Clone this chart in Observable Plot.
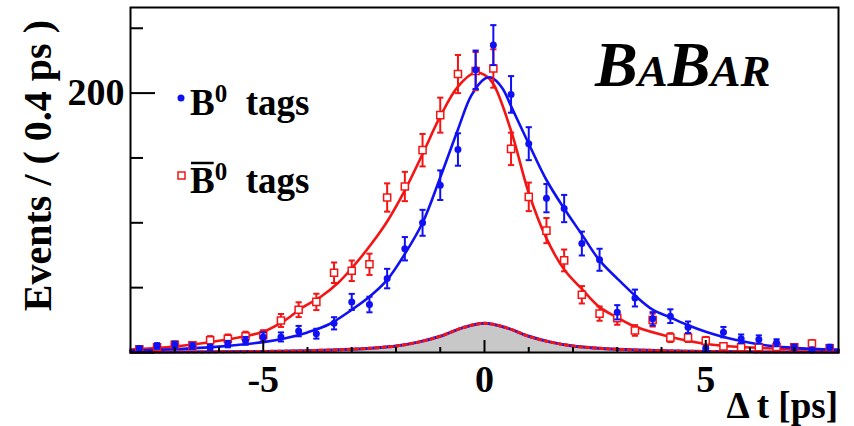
<!DOCTYPE html>
<html><head><meta charset="utf-8">
<script src="https://cdn.jsdelivr.net/npm/d3@7"></script>
<script src="https://cdn.jsdelivr.net/npm/@observablehq/plot@0.6"></script>
<style>html,body{margin:0;padding:0;background:#fff}svg{display:block}</style>
</head><body><div id="chart"></div>
<script>
// ---- data ----
const binCenters = [-7.8,-7.4,-7.0,-6.6,-6.2,-5.8,-5.4,-5.0,-4.6,-4.2,-3.8,-3.4,-3.0,-2.6,-2.2,-1.8,-1.4,-1.0,-0.6,-0.2,
                    0.2,0.6,1.0,1.4,1.8,2.2,2.6,3.0,3.4,3.8,4.2,4.6,5.0,5.4,5.8,6.2,6.6,7.0,7.4,7.8];
const b0Counts = [3,5,6,5,4,6.5,9,12,12,16.5,14.5,22.5,39,37,57,80,100,129,156.5,218,
                  237,199,161,119,111,84,71.5,31,42,26,28,19.5,3,15.7,10.6,10,7.5,4,2,4];
const b0Errors = [1.7,2.2,2.4,2.2,2,2.5,3,3.5,3.5,4,3.8,4.7,6.2,6,7.5,9,10,11.4,12.5,14.8,
                  15.4,14.1,12.7,10.9,10.5,9.2,8.5,5.5,6.5,5.1,5.3,4.4,1.7,4,3.3,3.2,2.7,2,1.4,2];
const b0barCounts = [2.5,4,6,5.5,9.5,10.6,12.5,13.5,24.7,33,39,61.5,63,68,119.5,128,156,183,214.7,217,
                     219,157,120,94,71,44.5,30,26.5,17,25,11.5,11.5,9,4.7,4,4,4.3,4,7,3.3];
const b0barErrors = [1.6,2,2.4,2.3,3.1,3.3,3.5,3.7,5,5.7,6.3,7.9,7.9,8.2,10.9,11.3,12.5,13.5,14.7,14.7,
                     14.8,12.5,11,9.7,8.4,6.7,5.5,5.1,4.1,5,3.4,3.4,3,2.2,2,2,2.1,2,2.6,1.8];

const fitB0X = [-8,-7,-6,-5,-4.5,-4,-3.5,-3,-2.6,-2.2,-1.8,-1.4,-1,-0.6,-0.3,0,0.15,0.4,0.6,1,1.4,1.8,2.2,2.6,3,3.4,3.8,4.2,4.6,5,5.4,6,6.5,7,8];
const fitB0Y = [1.5,2.5,4.5,8,11,15.5,22,33,43,56,76,100,135,172,198,211,212,204,190,161,133,111,91,71,57,44,33,27,21,16,12,7.5,5,3.6,2];
const fitB0barX = [-8,-7,-6,-5.5,-5,-4.5,-4.1,-3.7,-3.3,-2.95,-2.55,-2.2,-1.8,-1.4,-1,-0.6,-0.2,0,0.2,0.6,1,1.4,1.8,2.2,2.6,3,3.4,4.2,4.9,5.6,6.4,7,8];
const fitB0barY = [2.3,4.5,9,12,16,25,35,43,54,67,84,101,125,153,182,205,216,214,207,171,123,88,64,49,35,27,20,12,7.2,4.6,3.3,2.6,2];
const bkgX = [-8,-6,-5,-4,-3,-2.5,-2,-1.5,-1,-0.5,0,0.5,1,1.5,2,2.5,3,4,5,6,8];
const bkgY = [0.2,0.5,0.8,1.4,2.5,3.5,5,8,12.5,19,22.5,19,12.5,8,5,3.5,2.5,1.4,0.8,0.5,0.2];

const xTicksMajor = [-5, 0, 5];
const xTickLabels = ["-5", "0", "5"];
const xTicksMinor = [-7,-6,-4,-3,-2,-1,1,2,3,4,6,7];
const yTicksMajor = [0, 200];
const yTickLabels = ["", "200"];
const yTicksMinor = [50, 100, 150, 250];

const BLUE = "#1010f5", RED = "#f51414";
const FONT = "'Liberation Serif', 'Times New Roman', serif";

const b0 = binCenters.map((x, i) => ({x, y: b0Counts[i], lo: b0Counts[i] - b0Errors[i], hi: b0Counts[i] + b0Errors[i]}));
const b0bar = binCenters.map((x, i) => ({x, y: b0barCounts[i], lo: b0barCounts[i] - b0barErrors[i], hi: b0barCounts[i] + b0barErrors[i]}));
const fitB0 = fitB0X.map((x, i) => ({x, y: fitB0Y[i]}));
const fitB0bar = fitB0barX.map((x, i) => ({x, y: fitB0barY[i]}));
const bkg = bkgX.map((x, i) => ({x, y: bkgY[i]}));

const capW = 0.07;
function errMarks(data, color) {
  return [
    Plot.ruleX(data, {x: "x", y1: "lo", y2: "hi", stroke: color, strokeWidth: 2}),
    Plot.link(data, {x1: d => d.x - capW, x2: d => d.x + capW, y1: "hi", y2: "hi", stroke: color, strokeWidth: 2}),
    Plot.link(data, {x1: d => d.x - capW, x2: d => d.x + capW, y1: "lo", y2: "lo", stroke: color, strokeWidth: 2})
  ];
}

const plot = Plot.plot({
  width: 854, height: 426,
  marginLeft: 130, marginRight: 16, marginTop: 7, marginBottom: 74,
  x: {domain: [-8, 8]},
  y: {domain: [0, 266]},
  style: {fontFamily: FONT, fontWeight: "bold", background: "white", color: "black"},
  marks: [
    Plot.areaY(bkg, {x: "x", y: "y", fill: "#c8c8c8", curve: "catmull-rom"}),
    Plot.line(bkg, {x: "x", y: "y", stroke: BLUE, strokeWidth: 3, curve: "catmull-rom"}),
    Plot.line(bkg, {x: "x", y: "y", stroke: RED, strokeWidth: 3, strokeDasharray: "3,4", curve: "catmull-rom"}),
    Plot.line(fitB0bar, {x: "x", y: "y", stroke: RED, strokeWidth: 2.6, curve: "catmull-rom"}),
    Plot.line(fitB0, {x: "x", y: "y", stroke: BLUE, strokeWidth: 2.6, curve: "catmull-rom"}),
    ...errMarks(b0bar, RED),
    Plot.dot(b0bar, {x: "x", y: "y", symbol: "square", r: 4, fill: "white", stroke: RED, strokeWidth: 1.5}),
    ...errMarks(b0, BLUE),
    Plot.dot(b0, {x: "x", y: "y", r: 3.5, fill: BLUE}),
    Plot.frame({stroke: "black", strokeWidth: 2}),
    Plot.axisX({ticks: xTicksMinor, tickSize: -5, tickFormat: () => "", label: null, strokeWidth: 2}),
    Plot.axisX({ticks: xTicksMajor, tickSize: -12, tickFormat: () => "", label: null, strokeWidth: 2}),
    Plot.axisX({ticks: xTicksMajor, tickSize: 0, tickPadding: 13, tickFormat: (d, i) => xTickLabels[i], label: null, fontSize: 38}),
    Plot.axisY({ticks: yTicksMinor, tickSize: -13, tickFormat: () => "", label: null, strokeWidth: 2}),
    Plot.axisY({ticks: yTicksMajor, tickSize: -25, tickFormat: () => "", label: null, strokeWidth: 2}),
    Plot.axisY({ticks: yTicksMajor, tickSize: 0, tickPadding: 6, tickFormat: (d, i) => yTickLabels[i], label: null, fontSize: 38})
  ]
});
document.getElementById("chart").appendChild(plot);

const svg = d3.select(plot);
const g = svg.append("g").attr("font-family", FONT).attr("font-weight", "bold")
  .attr("fill", "black").attr("text-anchor", "start");

// y-axis title
g.append("text").attr("transform", "translate(51,20) rotate(-90)").attr("text-anchor", "end")
  .attr("font-size", 40).text("Events / ( 0.4 ps )");
// x-axis title
g.append("text").attr("x", 838).attr("y", 418).attr("text-anchor", "end").attr("font-size", 37)
  .text("\u0394 t [ps]");

// legend
g.append("circle").attr("cx", 181).attr("cy", 98).attr("r", 3.5).attr("fill", BLUE);
const t1 = g.append("text").attr("x", 190).attr("y", 115).attr("font-size", 37);
t1.append("tspan").text("B");
t1.append("tspan").attr("dy", -13).attr("font-size", 25).text("0");
t1.append("tspan").attr("dy", 13).text("\u00A0\u00A0tags");

g.append("rect").attr("x", 178).attr("y", 172).attr("width", 7).attr("height", 7)
  .attr("fill", "white").attr("stroke", RED).attr("stroke-width", 1.5);
const t2 = g.append("text").attr("x", 190).attr("y", 193).attr("font-size", 37);
t2.append("tspan").text("B");
t2.append("tspan").attr("dy", -13).attr("font-size", 25).text("0");
t2.append("tspan").attr("dy", 13).text("\u00A0\u00A0tags");
// overline over the B
const measure = g.append("text").attr("x", 190).attr("y", 193).attr("font-size", 37).attr("fill", "none").text("B");
const mb = measure.node().getBBox();
measure.remove();
g.append("line").attr("x1", mb.x + 1).attr("x2", mb.x + mb.width - 1)
  .attr("y1", 163).attr("y2", 163).attr("stroke", "black").attr("stroke-width", 2.5);

// BaBar logo
const logo = g.append("text").attr("x", 595).attr("y", 86).attr("font-style", "italic");
logo.append("tspan").attr("font-size", 64).text("B");
logo.append("tspan").attr("font-size", 45).text("A");
logo.append("tspan").attr("font-size", 64).text("B");
logo.append("tspan").attr("font-size", 45).text("AR");
</script></body></html>
